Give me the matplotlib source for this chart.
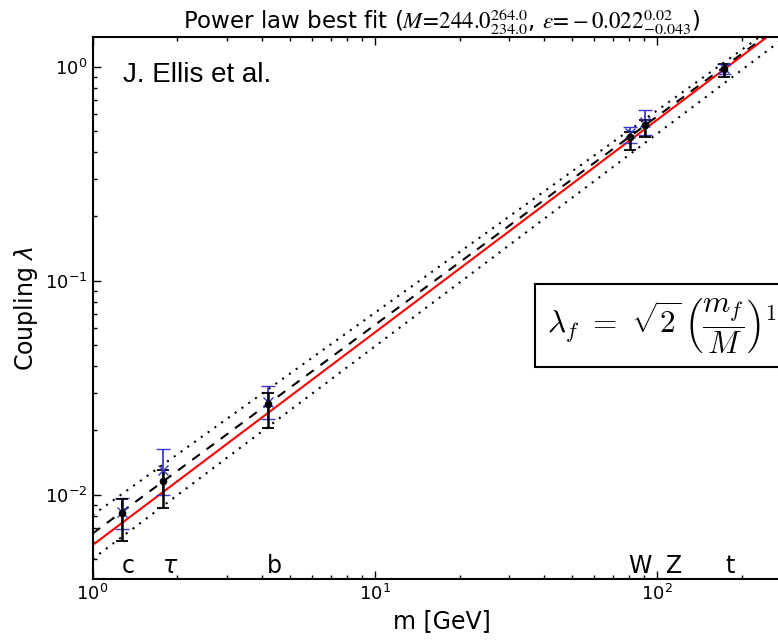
import matplotlib
matplotlib.use("Agg")
import matplotlib.pyplot as plt
import matplotlib.transforms as mtransforms
import numpy as np

plt.rcParams["mathtext.fontset"] = "dejavusans"
plt.rcParams["font.family"] = ["DejaVu Sans"]

# particle masses [GeV] and labels
masses = [1.27, 1.777, 4.18, 80.4, 91.19, 173.0]
names = ["c", r"$\tau$", "b", "W", "Z", "t"]

# black points (central value, lower and upper error)
black_val = [0.0082, 0.0116, 0.0265, 0.471, 0.534, 0.975]
black_lo = [0.0061, 0.0087, 0.0205, 0.411, 0.471, 0.898]
black_hi = [0.0096, 0.0130, 0.0299, 0.497, 0.564, 1.037]

# blue points
blue_val = [0.0083, 0.0130, 0.0272, 0.490, 0.553, 0.985]
blue_lo = [0.0069, 0.0100, 0.0225, 0.440, 0.480, 0.930]
blue_hi = [0.0097, 0.0164, 0.0323, 0.521, 0.632, 1.037]

# power-law lines: log10(lambda) = a + b*log10(m)
red_fit = (-2.235, 0.993)
dashed_fit = (-2.181, 0.974)
upper_fit = (-2.095, 0.945)
lower_fit = (-2.300, 0.993)

title = (r"Power law best fit ($M\!=\!244.0^{264.0}_{234.0}$, "
         r"$\epsilon\!=\!-0.022^{0.02}_{-0.043}$)")


def power_line(fit, m):
    return 10 ** (fit[0] + fit[1] * np.log10(m))


fig = plt.figure(figsize=(7.78, 6.43), dpi=100)
ax = fig.add_axes([0.119, 0.0995, 0.898, 0.843])

m = np.logspace(0, np.log10(300), 200)
ax.plot(m, power_line(upper_fit, m), color="k", lw=1.5, ls=(0, (1, 3)))
ax.plot(m, power_line(lower_fit, m), color="k", lw=1.5, ls=(0, (1, 3)))
ax.plot(m, power_line(dashed_fit, m), color="k", lw=1.5, ls=(0, (4.5, 4)))
ax.plot(m, power_line(red_fit, m), color="red", lw=1.5)

bv = np.array(blue_val)
ax.errorbar(masses, bv, yerr=[bv - np.array(blue_lo), np.array(blue_hi) - bv],
            fmt="x", color="#3a3ad0", ms=7, mew=1.0, elinewidth=1.3, capsize=5, capthick=1.3)
kv = np.array(black_val)
ax.errorbar(masses, kv, yerr=[kv - np.array(black_lo), np.array(black_hi) - kv],
            fmt="o", color="black", ms=4.5, elinewidth=1.8, capsize=4, capthick=1.3)

ax.set_xscale("log")
ax.set_yscale("log")
ax.set_xlim(1, 300)
ax.set_ylim(0.00404, 1.38)

# particle names along the bottom
label_nudge = [6, 7, 7, 10, 29, 6]
trans = mtransforms.blended_transform_factory(ax.transData, ax.transAxes)
for mass, name, dx in zip(masses, names, label_nudge):
    ax.annotate(name, xy=(mass, 0.0), xycoords=trans, xytext=(dx, 1),
                textcoords="offset pixels", ha="center", va="bottom", fontsize=17)

ax.text(0.043, 0.93, "J. Ellis et al.", transform=ax.transAxes,
        fontsize=20, family="Liberation Sans", va="center")

ax.text(0.65, 0.467, r"$\lambda_f\ =\ \sqrt{2}\,\left(\dfrac{m_f}{M}\right)^{1+\epsilon}$",
        transform=ax.transAxes, fontsize=22.5, va="center", ha="left",
        math_fontfamily="cm",
        bbox=dict(boxstyle="square,pad=0.38", fc="white", ec="black", lw=1.5))

ax.set_title(title, fontsize=16.5, math_fontfamily="stix")
ax.set_xlabel("m [GeV]", fontsize=17)
ax.set_ylabel(r"Coupling $\lambda$", fontsize=17)

ax.tick_params(which="both", direction="in", top=True, right=True, labelsize=13)
ax.tick_params(which="major", length=6, width=1)
ax.tick_params(which="minor", length=3, width=1)
for spine in ax.spines.values():
    spine.set_linewidth(1.5)

fig.savefig("out.png", dpi=100)
